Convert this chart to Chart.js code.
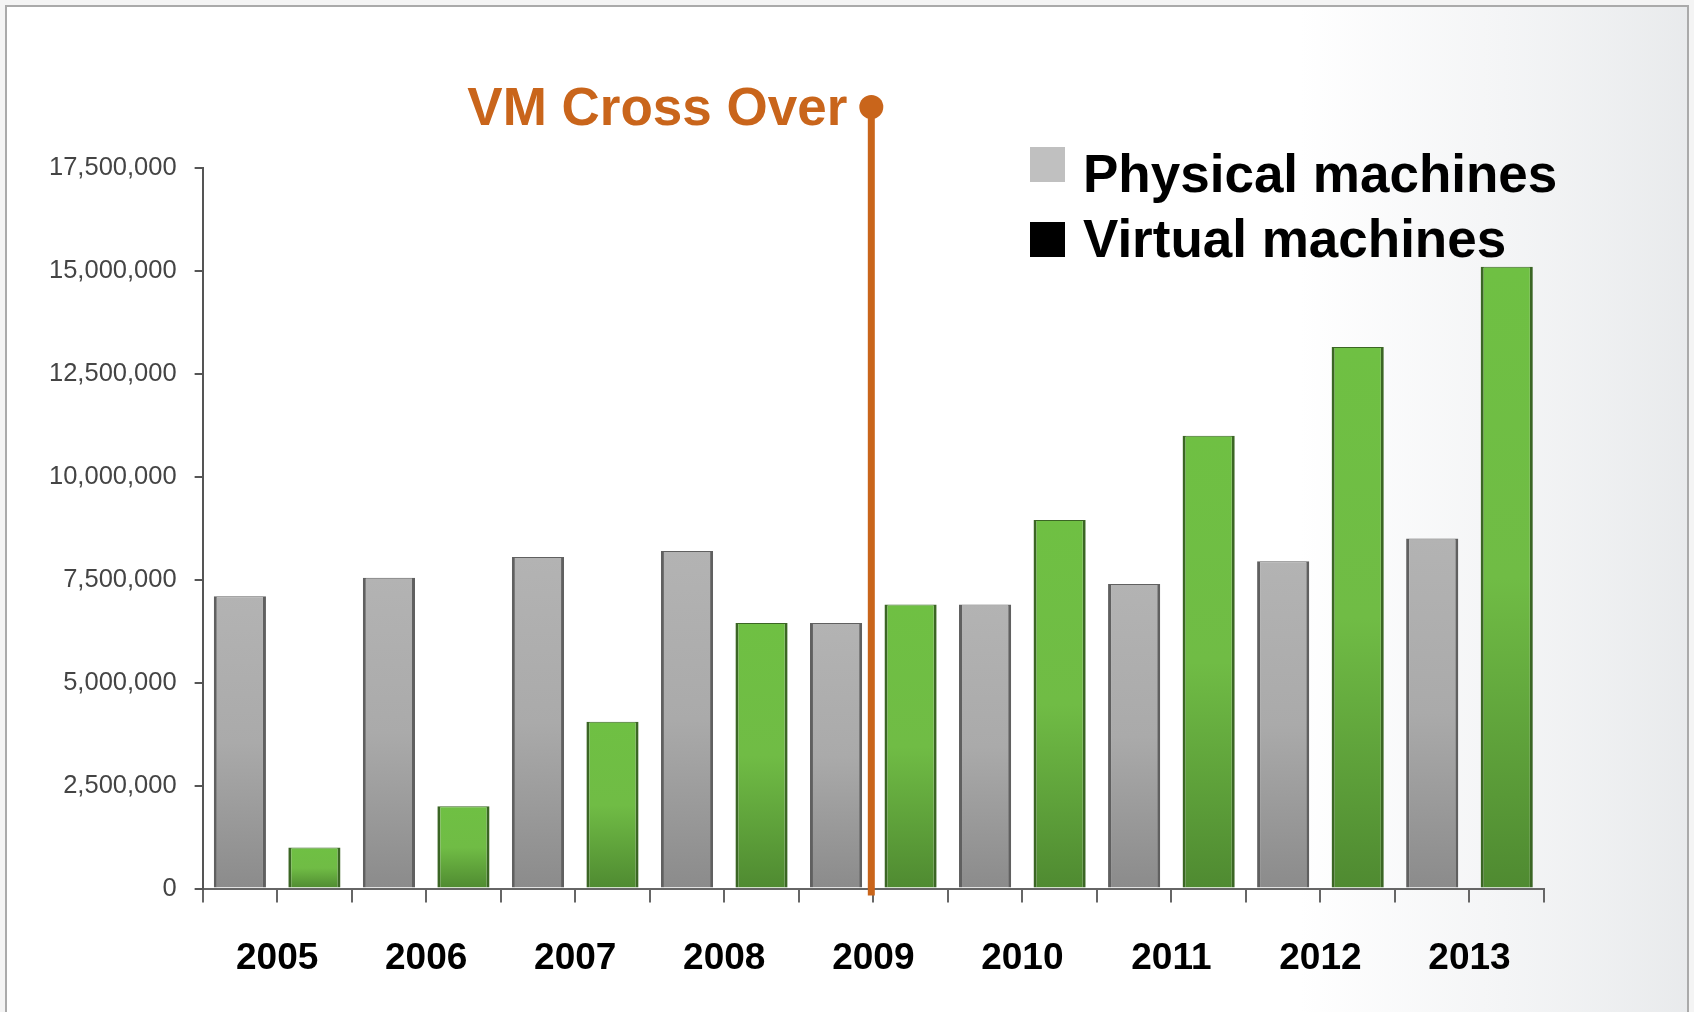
<!DOCTYPE html>
<html>
<head>
<meta charset="utf-8">
<title>Physical vs Virtual machines</title>
<script src="https://cdn.jsdelivr.net/npm/chart.js@4.4.1/dist/chart.umd.min.js"></script>
<style>
    html, body { margin: 0; padding: 0; background: #f4f4f4; }
    #wrap { width: 1694px; height: 1012px; position: relative; }
</style>
</head>
<body>
<div id="wrap"><canvas id="vmChart"></canvas></div>
<script>
// values in machines
var years = ['2005', '2006', '2007', '2008', '2009', '2010', '2011', '2012', '2013'];
var physicalMachines = [7100000, 7550000, 8050000, 8200000, 6450000, 6900000, 7400000, 7950000, 8500000];
var virtualMachines = [1000000, 2000000, 4050000, 6450000, 6900000, 8950000, 11000000, 13150000, 15100000];
var yTicks = [0, 2500000, 5000000, 7500000, 10000000, 12500000, 15000000, 17500000];
var seriesNames = ['Physical machines', 'Virtual machines'];
var legendSwatches = ['#c0c0c0', '#000000'];
var crossOverYear = '2009';
var crossOverText = 'VM Cross Over';

// each year gets two slots on the x axis: physical then virtual
var slots = [];
var physicalSlots = [];
var virtualSlots = [];
years.forEach(function(year, i) {
    slots.push(year + ' P');
    slots.push(year + ' V');
    physicalSlots.push(physicalMachines[i], null);
    virtualSlots.push(null, virtualMachines[i]);
});

function barGradient(context, stops) {
    const chart = context.chart;
    const area = chart.chartArea;
    const value = context.raw;
    if (!area || value === null || value === undefined) return stops[1];
    const y = chart.scales.y;
    const top = y.getPixelForValue(value);
    const base = y.getPixelForValue(0);
    const g = chart.ctx.createLinearGradient(0, top, 0, base);
    g.addColorStop(0, stops[0]);
    g.addColorStop(0.5, stops[1]);
    g.addColorStop(1, stops[2]);
    return g;
}

const backgroundPlugin = {
    id: 'slideBackground',
    beforeDraw: function(chart) {
        const ctx = chart.ctx;
        const w = chart.width;
        const h = chart.height;
        ctx.save();
        ctx.fillStyle = '#f4f4f4';
        ctx.fillRect(0, 0, w, h);
        ctx.fillStyle = '#ffffff';
        ctx.fillRect(6, 6, w - 12, h - 6);
        const g = ctx.createLinearGradient(1300, 0, w - 6, 0);
        g.addColorStop(0, 'rgba(232,234,236,0)');
        g.addColorStop(0.5, 'rgba(234,236,238,0.5)');
        g.addColorStop(1, 'rgba(230,232,234,0.9)');
        ctx.fillStyle = g;
        ctx.fillRect(1300, 6, w - 6 - 1300, h - 6);
        ctx.strokeStyle = '#aaaaaa';
        ctx.lineWidth = 2;
        ctx.beginPath();
        ctx.moveTo(6, h);
        ctx.lineTo(6, 6);
        ctx.lineTo(w - 6, 6);
        ctx.lineTo(w - 6, h);
        ctx.stroke();
        ctx.restore();
    }
};

const crossOverPlugin = {
    id: 'crossOver',
    afterDatasetsDraw: function(chart) {
        const ctx = chart.ctx;
        const x = chart.scales.x;
        const area = chart.chartArea;
        const idx = years.indexOf(crossOverYear) * 2;
        // boundary between the physical and virtual slot of that year
        const lineX = (x.getPixelForValue(idx) + x.getPixelForValue(idx + 1)) / 2 - 2;
        const topY = area.top - 61;
        ctx.save();
        ctx.strokeStyle = '#c9651b';
        ctx.fillStyle = '#c9651b';
        ctx.lineWidth = 7;
        ctx.beginPath();
        ctx.moveTo(lineX, topY);
        ctx.lineTo(lineX, area.bottom + 7);
        ctx.stroke();
        ctx.beginPath();
        ctx.arc(lineX, topY, 12, 0, Math.PI * 2);
        ctx.fill();
        ctx.font = 'bold 53px "Liberation Sans", Arial, sans-serif';
        ctx.textAlign = 'right';
        ctx.textBaseline = 'alphabetic';
        ctx.fillText(crossOverText, lineX - 24, topY + 18);
        ctx.restore();
    }
};

const legendPlugin = {
    id: 'slideLegend',
    afterDraw: function(chart) {
        const ctx = chart.ctx;
        ctx.save();
        ctx.font = 'bold 53px "Liberation Sans", Arial, sans-serif';
        ctx.textAlign = 'left';
        ctx.textBaseline = 'alphabetic';
        seriesNames.forEach(function(name, i) {
            const rowY = 147 + i * 75;
            ctx.fillStyle = legendSwatches[i];
            ctx.fillRect(1030, rowY, 35, 35);
            ctx.fillStyle = '#000000';
            ctx.fillText(name, 1083, rowY + 45 - i * 10);
        });
        ctx.restore();
    }
};

new Chart(document.getElementById('vmChart'), {
    type: 'bar',
    data: {
        labels: slots,
        datasets: [{
            label: seriesNames[0],
            data: physicalSlots,
            grouped: false,
            backgroundColor: function(c) { return barGradient(c, ['#b3b3b3', '#aaaaaa', '#8b8b8b']); },
            borderColor: '#606060',
            borderWidth: { left: 3, right: 3, top: 1, bottom: 0 },
            borderSkipped: false
        }, {
            label: seriesNames[1],
            data: virtualSlots,
            grouped: false,
            backgroundColor: function(c) { return barGradient(c, ['#6fc043', '#70bc45', '#4f8a31']); },
            borderColor: '#3b6624',
            borderWidth: { left: 3, right: 3, top: 1, bottom: 0 },
            borderSkipped: false
        }]
    },
    options: {
        responsive: true,
        maintainAspectRatio: false,
        animation: false,
        barPercentage: 0.7,
        categoryPercentage: 1,
        layout: {
            padding: { top: 168, left: 31, right: 150, bottom: -3 }
        },
        plugins: {
            legend: { display: false },
            tooltip: { enabled: false }
        },
        scales: {
            x: {
                type: 'category',
                position: 'bottom',
                offset: true,
                grid: {
                    offset: true,
                    drawOnChartArea: false,
                    tickLength: 14,
                    color: '#666666',
                    lineWidth: 2
                },
                border: { color: '#666666', width: 2 },
                ticks: { display: false }
            },
            xYear: {
                type: 'category',
                position: 'bottom',
                labels: years,
                offset: true,
                grid: { display: false, drawTicks: false },
                border: { display: false },
                ticks: {
                    color: '#000000',
                    padding: 34,
                    autoSkip: false,
                    maxRotation: 0,
                    font: { family: '"Liberation Sans", Arial, sans-serif', size: 37, weight: 'bold' }
                }
            },
            y: {
                min: 0,
                max: yTicks[yTicks.length - 1],
                afterBuildTicks: function(scale) {
                    scale.ticks = yTicks.map(function(v) { return { value: v }; });
                },
                grid: {
                    drawOnChartArea: false,
                    tickLength: 8,
                    color: '#555555',
                    lineWidth: 2
                },
                border: { color: '#555555', width: 2 },
                ticks: {
                    color: '#444444',
                    padding: 18,
                    font: { family: '"Liberation Sans", Arial, sans-serif', size: 25.5 },
                    callback: function(value) {
                        return Number(value).toLocaleString('en-US');
                    }
                }
            }
        }
    },
    plugins: [backgroundPlugin, crossOverPlugin, legendPlugin]
});
</script>
</body>
</html>
